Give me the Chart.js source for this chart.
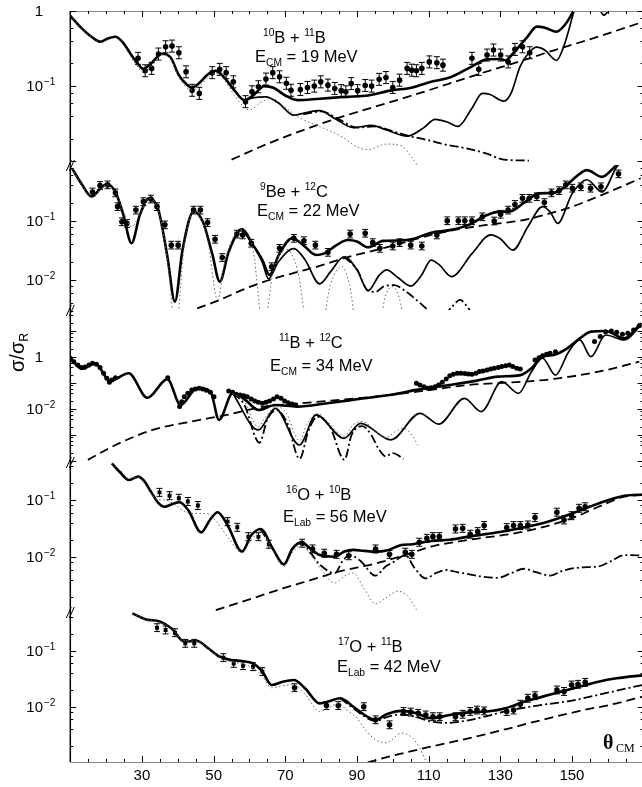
<!DOCTYPE html>
<html>
<head>
<meta charset="utf-8">
<script src="https://cdn.jsdelivr.net/npm/chart.js@4.4.1/dist/chart.umd.min.js"></script>
<style>
  html, body { margin: 0; padding: 0; background: #fff; overflow: hidden; }
  #wrap { width: 660px; height: 787px; }
</style>
</head>
<body>
<div id="wrap"><canvas id="c" width="660" height="787"></canvas></div>
<script>
// ---- data: [theta_cm (deg), sigma/sigma_R] ----
// panel 1: 10B + 11B, Ecm = 19 MeV
const p1Full = [[10,0.86],[13,0.6],[16,0.45],[18.5,0.39],[20.5,0.43],[22.6,0.455],[24.7,0.38],[26.8,0.27],[28.8,0.2],[30.4,0.17],[32.5,0.2],[35.6,0.27],[38,0.24],[40.3,0.14],[42.5,0.105],[43.9,0.096],[46,0.11],[48.5,0.145],[50.6,0.16],[53,0.13],[55.8,0.088],[58.6,0.065],[61,0.075],[64.1,0.1],[66.7,0.095],[70,0.075],[73.4,0.065],[79.6,0.068],[86.9,0.072],[93.1,0.075],[99.3,0.087],[105.5,0.096],[110.7,0.114],[115.9,0.13],[121.1,0.172],[126.3,0.227],[129.9,0.23],[131.5,0.22],[133.5,0.27],[137.5,0.45],[140.2,0.62],[142.5,0.6],[145.7,0.53],[148,0.65],[150.4,1.0],[152,1.5]];
const p1Second = [[50.6,0.16],[53,0.13],[55.8,0.088],[58.6,0.065],[61,0.07],[64.6,0.072],[68,0.06],[72.4,0.041],[75.5,0.044],[79.6,0.047],[83.8,0.037],[89,0.028],[94.1,0.03],[98.3,0.026],[104,0.0216],[108.7,0.028],[111.8,0.036],[115.4,0.033],[118.2,0.029],[122,0.05],[125,0.08],[127,0.078],[131,0.063],[133,0.08],[135.5,0.18],[138,0.28],[140.2,0.33],[142.5,0.3],[145.7,0.22],[148,0.37],[150.4,0.93],[152.5,2],[155,2.5],[157.8,1.05],[158.9,0.88],[160.3,1.05],[163,2.5]];
const p1Dash = [[55,0.0105],[65,0.017],[75,0.026],[85,0.038],[95,0.053],[105,0.074],[115,0.105],[125,0.15],[135,0.21],[145,0.3],[155,0.42],[170,0.72]];
const p1Dot = [[10,0.86],[13,0.6],[16,0.45],[18.5,0.38],[20.5,0.42],[22.6,0.44],[24.7,0.36],[26.8,0.25],[28.8,0.18],[30.4,0.15],[32.5,0.18],[35.6,0.26],[38,0.23],[40.3,0.13],[42.5,0.095],[44,0.088],[46,0.1],[48.5,0.13],[50.6,0.15],[53,0.12],[55.8,0.075],[58.6,0.052],[60,0.048],[63,0.06],[66.2,0.069],[70,0.052],[74.4,0.037],[79.6,0.029],[85.9,0.021],[90,0.0155],[93.1,0.0143],[98.3,0.0169],[102.4,0.016],[105.5,0.0109],[107.5,0.008]];
const p1DashDot = [[75,0.042],[80,0.046],[85,0.036],[90,0.028],[95,0.029],[100,0.025],[104,0.022],[110,0.019],[115,0.0165],[120,0.015],[126,0.0127],[131,0.0105],[138,0.0102]];
const p1Exp = [[28.9,0.234],[30.9,0.16],[32.7,0.172],[34.6,0.267],[36.6,0.334],[38.4,0.341],[40.3,0.278],[42.3,0.155],[44,0.088],[46,0.08],[49.6,0.151],[51.7,0.167],[53.5,0.151],[55.5,0.114],[58.9,0.062],[60.7,0.084],[62.5,0.098],[64.6,0.124],[66.5,0.151],[68.4,0.133],[70.3,0.109],[71.6,0.088],[74.2,0.09],[76.2,0.096],[78.1,0.1],[79.9,0.114],[81.9,0.103],[83.8,0.093],[85.6,0.087],[86.9,0.084],[88.4,0.108],[90.2,0.087],[92.3,0.102],[94.1,0.1],[96.2,0.123],[98.1,0.13],[100,0.096],[101.9,0.12],[104,0.172],[105.3,0.163],[106.6,0.16],[108.1,0.172],[110.2,0.21],[112.3,0.205],[114,0.19],[122.1,0.234],[124,0.167],[126.3,0.259],[128.1,0.302],[130.1,0.259],[132.2,0.21],[134.1,0.308],[136.2,0.334],[138.2,0.278]];

// panel 2: 9Be + 12C, Ecm = 22 MeV
const p2Full = [[10.5,0.78],[13.3,0.41],[15.9,0.26],[18.5,0.36],[20.1,0.42],[22.6,0.31],[24.7,0.135],[27.1,0.042],[29.4,0.126],[32,0.242],[34.6,0.153],[37.1,0.0248],[39.2,0.0043],[41.3,0.032],[44.4,0.144],[47,0.097],[49.6,0.028],[51.7,0.0094],[54.2,0.03],[57.9,0.073],[61,0.039],[63.6,0.0218],[65.6,0.0122],[68.2,0.0266],[71.9,0.051],[75,0.039],[78.6,0.0266],[80.7,0.028],[84.3,0.039],[87.4,0.0477],[90,0.045],[93.1,0.0358],[97.3,0.046],[102.4,0.047],[105.5,0.0495],[110.7,0.063],[115.9,0.07],[121.1,0.086],[126.3,0.126],[129.9,0.144],[132.5,0.144],[136.7,0.205],[140.8,0.294],[145,0.3],[148,0.38],[151.1,0.56],[154.2,0.73],[158.4,0.56],[161.5,0.78],[164,1.1]];
const p2Second = [[57.9,0.073],[61,0.039],[63.6,0.02],[65.3,0.0105],[68,0.02],[72.4,0.034],[75.5,0.022],[79.6,0.0086],[82.7,0.014],[86.4,0.0248],[90,0.015],[93.1,0.0066],[96.2,0.012],[98.3,0.0148],[101.4,0.011],[105,0.0079],[108,0.012],[110.7,0.0218],[113,0.018],[116.4,0.0114],[122.1,0.028],[127.3,0.058],[130,0.05],[133.5,0.032],[137.7,0.08],[141.8,0.175],[144,0.14],[146,0.091],[150.1,0.294],[154.2,0.5],[158.4,0.31],[162.5,0.83],[165,1.2]];
const p2Dash = [[45.4,0.0033],[51.7,0.0046],[58,0.0068],[65.1,0.0098],[72,0.013],[79.6,0.0173],[87,0.024],[95.2,0.032],[103,0.043],[110.7,0.058],[118,0.072],[126.3,0.086],[136.7,0.104],[143,0.13],[150.1,0.175],[159.4,0.294],[169.2,0.53]];
const p2Dot = [[10.5,0.78],[13.3,0.4],[15.9,0.25],[18.5,0.35],[20.1,0.41],[22.6,0.3],[24.7,0.15],[27.1,0.08],[29.4,0.13],[32,0.24],[34.6,0.15],[37.1,0.0218],[39.4,0.0015],[41.8,0.037],[44.4,0.144],[47,0.09],[48.5,0.042],[51.1,0.0046],[53.2,0.022],[57.9,0.073],[61,0.032],[63.9,0.0015],[66.7,0.0148],[70.3,0.033],[73.4,0.0148],[76.5,0.0015],[80.1,0.0015],[82.5,0.008],[85.8,0.0168],[88,0.008],[90,0.0015],[96.2,0.0015],[97.8,0.005],[99.8,0.0077],[101.8,0.005],[103.5,0.0015]];
const p2DashDot = [[86.4,0.0248],[90,0.015],[93.1,0.0066],[95.2,0.0063],[97.5,0.0078],[100.4,0.0082],[103.5,0.0065],[106.6,0.0046],[109.7,0.0031],[111,0.0025],[113,null],[114.5,0.0025],[116.5,0.0035],[118.8,0.0046],[120.8,0.0035],[122.5,0.0025]];
const p2Exp = [[16.2,0.31],[18.3,0.4],[20.4,0.41],[22.6,0.3],[23.2,0.175],[24.4,0.097],[25.8,0.091],[28.3,0.153],[30.4,0.213],[32.5,0.236],[34.2,0.175],[36.4,0.086],[38.2,0.039],[40.1,0.039],[44.4,0.153],[46.3,0.153],[48.3,0.094],[50.4,0.049],[52.4,0.024],[56.5,0.06],[58.1,0.058],[60.5,0.042],[66.2,0.0168],[68.4,0.0344],[72.4,0.0508],[75.2,0.0464],[78.4,0.039],[81.9,0.0294],[88.1,0.06],[92.3,0.062],[94.4,0.043],[96.4,0.0344],[100,0.0377],[101.9,0.043],[105,0.039],[108.1,0.0377],[112.3,0.058],[115.2,0.101],[118.3,0.101],[120.1,0.101],[122.1,0.101],[125,0.118],[128.3,0.1],[130.1,0.13],[132.2,0.153],[134.1,0.191],[136.2,0.242],[138.1,0.242],[140.2,0.258],[142.3,0.205],[144.3,0.3],[146.4,0.327],[148.3,0.41],[150.1,0.36],[152.5,0.38],[155.2,0.36],[158.1,0.38],[163,0.63]];

// panel 3: 11B + 12C, Ecm = 34 MeV
const p3Full = [[10,0.89],[13.3,0.35],[16.9,0.57],[21.1,0.12],[26.3,0.235],[31.5,0.027],[37.1,0.14],[40.8,0.0142],[45.4,0.063],[49.1,0.047],[51.5,0.0038],[55.3,0.04],[58.9,0.022],[62.5,0.0091],[67.2,0.0142],[73.4,0.0123],[81.7,0.0166],[90,0.0235],[100.4,0.0367],[106.6,0.054],[115.9,0.084],[123.2,0.12],[129.4,0.175],[135.6,0.2],[138.7,0.37],[141.8,1.03],[144.9,1.19],[148,1.86],[152.2,5.2],[155.3,9.4],[159.4,10],[164.6,5.2],[169.3,19.7]];
const p3Second = [[55.3,0.04],[62.5,0.00156],[67.2,0.0106],[73.9,0.00041],[78.6,0.0059],[86.4,0.00074],[91,0.0028],[99.5,0.00065],[107.6,0.0068],[112.8,0.0026],[120,0.0257],[124.7,0.0079],[130.4,0.112],[135.1,0.04],[138.7,0.27],[141.8,0.89],[145.4,0.2],[149.1,1.6],[152.2,4.5],[155.3,1.03],[159.4,7],[164.6,4.5],[169.3,17]];
const p3Dash = [[14.9,0.00011],[22.6,0.00041],[33,0.00156],[43.4,0.0032],[53.7,0.0059],[64.1,0.0123],[74.5,0.0165],[90,0.0257],[100.4,0.036],[110.7,0.054],[121.1,0.084],[136.6,0.112],[144.9,0.143],[157.4,0.27],[168.8,0.66]];
const p3Dot = [[55.3,0.04],[58.5,0.02],[62.5,0.002],[64,0.004],[67.5,0.012],[70,0.008],[74,0.0006],[76,0.0025],[79,0.0068],[82,0.003],[86.5,0.0009],[89,0.0025],[91.5,0.0033],[95,0.0015],[98,0.0008],[101,0.0014],[103,0.0018],[105.5,0.0009],[107,0.0004]];
const p3DashDot = [[55.3,0.04],[58.5,0.015],[62.8,0.0005],[65,0.004],[67.5,0.009],[70.5,0.003],[74,0.00012],[76.5,0.0015],[79,0.005],[82.5,0.002],[86.5,0.00011],[88.5,0.001],[91.5,0.0022],[94,0.001],[96,0.0003],[98,0.00015],[100,0.0002],[103,0.00012]];
const p3Exp = [[10,0.89],[11,0.66],[12.1,0.49],[13.1,0.39],[14.1,0.41],[15.2,0.49],[16.2,0.57],[17.3,0.52],[18.3,0.39],[19.3,0.235],[20.2,0.15],[20.9,0.107],[21.6,0.13],[22.6,0.16],[37.2,0.16],[40.5,0.0123],[41.1,0.019],[41.8,0.0296],[42.8,0.04],[43.9,0.054],[44.9,0.059],[46,0.062],[47,0.059],[48,0.052],[49.1,0.044],[50.1,0.0296],[54.2,0.049],[55.3,0.044],[56.3,0.0365],[57.4,0.0345],[58.4,0.0325],[59.4,0.0297],[60.5,0.024],[61.5,0.0204],[62.5,0.018],[63.6,0.0165],[64.6,0.018],[65.6,0.0204],[66.7,0.024],[67.7,0.0297],[68.8,0.0257],[69.8,0.0204],[70.8,0.0175],[71.9,0.0155],[72.9,0.0142],[106.6,0.097],[107.6,0.084],[108.7,0.072],[109.7,0.062],[110.7,0.066],[111.8,0.072],[112.8,0.084],[113.8,0.107],[114.9,0.142],[115.9,0.19],[116.9,0.215],[118,0.236],[119,0.236],[120.1,0.23],[121.1,0.222],[122.1,0.215],[123.2,0.236],[124.2,0.273],[125.2,0.29],[126.3,0.316],[127.3,0.345],[128.3,0.37],[129.4,0.39],[130.4,0.43],[131.5,0.46],[132.5,0.49],[133.5,0.43],[134.6,0.37],[135.6,0.345],[139.7,0.77],[140.8,0.94],[141.8,1.12],[142.9,1.27],[143.9,1.38],[145.4,1.6],[156.3,3.9],[157.9,6.1],[159.4,9.4],[161,10],[162.5,8.9],[164.1,7.4],[165.6,8.1],[167.2,10.9],[168.8,16]];

// panel 4: 16O + 10B, Elab = 56 MeV
const p4Full = [[21.6,0.44],[24,0.3],[26.3,0.224],[28.9,0.257],[30.5,0.22],[32.5,0.14],[34.5,0.09],[36.3,0.076],[38.5,0.085],[40.5,0.091],[43,0.065],[46.5,0.027],[49,0.045],[51.1,0.061],[54,0.035],[57.9,0.0124],[60.5,0.024],[63.1,0.031],[66.5,0.014],[69.6,0.0074],[72,0.014],[74.5,0.018],[77,0.014],[79.6,0.0108],[83.8,0.0101],[86.5,0.0125],[89,0.0133],[92,0.0128],[95.2,0.0124],[98.3,0.013],[102.4,0.0162],[105.5,0.0167],[110.7,0.019],[115.9,0.02],[121.1,0.0227],[131.5,0.0286],[141.8,0.039],[150.1,0.058],[157.4,0.087],[164.6,0.119],[170,0.125]];
const p4Dash = [[50.6,0.00117],[60,0.0018],[69.3,0.0028],[77,0.0039],[84.8,0.0055],[95.2,0.0077],[103.5,0.0108],[110.7,0.0152],[121.1,0.0199],[136.6,0.0278],[150.1,0.048],[157.4,0.076],[164.6,0.114],[170,0.122]];
const p4Dot = [[21.6,0.44],[24,0.33],[26.3,0.24],[28.9,0.25],[30.5,0.2],[32.5,0.13],[34.5,0.1],[36.3,0.1],[39,0.085],[42,0.062],[45,0.058],[48,0.058],[51,0.04],[54,0.022],[57.9,0.012],[60.5,0.02],[63.1,0.028],[66.5,0.013],[69.6,0.0068],[72,0.012],[74.5,0.016],[78,0.009],[80.5,0.0055],[83.8,0.0035],[86.5,0.0046],[89,0.0052],[92,0.0028],[95.2,0.0015],[98,0.0019],[101.4,0.0025],[104,0.0021],[106.6,0.0012],[108,0.0009]];
const p4DashDot = [[63.1,0.031],[66.5,0.014],[69.6,0.0074],[72,0.014],[74.5,0.018],[77,0.012],[79.5,0.0075],[83.8,0.0052],[86,0.0085],[88,0.0108],[91,0.0085],[95.2,0.0047],[98,0.0068],[100.4,0.0083],[103.5,0.0108],[106,0.0065],[109.2,0.0042],[112,0.0052],[114.9,0.0059],[118,0.0054],[121.1,0.005],[125,0.0045],[129.4,0.0043],[133,0.0052],[136.6,0.0062],[140,0.0054],[143.9,0.0047],[147,0.0056],[150.1,0.0063],[154,0.0066],[157.4,0.0068],[161,0.0085],[164.6,0.0108],[170,0.0106]];
const p4Exp = [[34.9,0.136],[37.7,0.119],[40.3,0.107],[42.8,0.094],[45.6,0.08],[53.9,0.0417],[56.6,0.0331],[59.7,0.0227],[62.5,0.0227],[65.4,0.0167],[74.7,0.0174],[77.6,0.0138],[80.9,0.0116],[84.3,0.0111],[87.7,0.0105],[95.2,0.0138],[99.1,0.0111],[103.5,0.0121],[105.3,0.0111],[107.4,0.0181],[109.5,0.0212],[111.2,0.0227],[113,0.0227],[117.5,0.031],[119.5,0.0318],[121.6,0.025],[123.7,0.0278],[125.5,0.0355],[131.8,0.0327],[133.7,0.0355],[135.6,0.0355],[137.7,0.0364],[139.7,0.049],[145.8,0.061],[147.8,0.0446],[149.9,0.053],[152,0.0714],[153.7,0.076]];

// panel 5: 17O + 11B, Elab = 42 MeV
const p5Full = [[27.3,0.47],[30.9,0.37],[35.1,0.334],[38.2,0.254],[41.8,0.147],[45.4,0.151],[48.5,0.112],[51.7,0.079],[54.8,0.069],[57.9,0.066],[61,0.06],[63.6,0.0428],[66.2,0.0247],[69.3,0.0283],[72.4,0.0303],[75.5,0.0216],[79.6,0.0116],[82.5,0.0128],[85.3,0.0143],[89,0.0101],[92.1,0.0072],[95.2,0.0059],[98.3,0.0074],[102.4,0.0085],[106.6,0.0077],[110.7,0.0063],[115.9,0.0072],[121.1,0.008],[126.3,0.0083],[131.5,0.0095],[136.6,0.0124],[141.8,0.0153],[147,0.0188],[152.2,0.0231],[157.4,0.0283],[162.5,0.0325],[170,0.037]];
const p5Dash = [[93,0.00102],[100,0.00135],[110.7,0.00196],[121.1,0.00275],[131.5,0.004],[141.8,0.0059],[152.2,0.0085],[162.5,0.0116],[170,0.0155]];
const p5Dot = [[27.3,0.47],[30.9,0.37],[35.1,0.32],[38.2,0.26],[41.8,0.15],[45.4,0.15],[48.5,0.11],[51.7,0.075],[54.8,0.065],[57.9,0.058],[61,0.05],[63.6,0.035],[66.2,0.022],[69.3,0.024],[72.4,0.025],[75.5,0.017],[79.6,0.0083],[82,0.0095],[84.8,0.0116],[87,0.009],[90,0.0063],[92.5,0.0038],[95.2,0.0026],[98.3,0.0023],[102.4,0.0034],[105.5,0.0028],[107.6,0.0018],[109.2,0.0011]];
const p5DashDot = [[85.3,0.0143],[89,0.0095],[92,0.0068],[95.2,0.0056],[98.3,0.0066],[102.4,0.0074],[106.6,0.0066],[110.7,0.0055],[115,0.0052],[120,0.0056],[126,0.0068],[132,0.0085],[140,0.0105],[150,0.013],[160,0.018],[170,0.025]];
const p5Exp = [[34.2,0.261],[36.6,0.237],[39.2,0.212],[42.1,0.137],[44.6,0.137],[52.7,0.076],[55.6,0.06],[58.2,0.0547],[61,0.0525],[63.6,0.0428],[72.6,0.0221],[81.5,0.0106],[84.8,0.0106],[91.9,0.0101],[95.2,0.0059],[99.1,0.0048],[103,0.0083],[105,0.0081],[107.1,0.0077],[109.2,0.0072],[111.2,0.0067],[113.1,0.0067],[117.5,0.0067],[119.5,0.0074],[121.6,0.0083],[123.5,0.0088],[125.5,0.0085],[131.8,0.0083],[133.7,0.0088],[135.6,0.0112],[137.7,0.0143],[139.7,0.0159],[145.8,0.0201],[147.8,0.0189],[149.9,0.0247],[151.7,0.0254],[153.7,0.0275]];

// error bar half-width in decades, per panel
const p1Err = 0.08, p2Err = 0.065, p4Err = 0.07, p5Err = 0.07;

// panel scales (top to bottom)
const panels = [
  { id: 'y1', min: 0.0089, max: 1, h: 154, labels: [1, 0.1] },
  { id: 'y2', min: 0.0031, max: 0.89, h: 145, labels: [0.1, 0.01] },
  { id: 'y3', min: 9.1e-5, max: 64, h: 152, labels: [1, 0.01] },
  { id: 'y4', min: 0.00108, max: 0.464, h: 150, labels: [0.1, 0.01] },
  { id: 'y5', min: 0.00104, max: 0.497, h: 150, labels: [0.1, 0.01] }
];

const notes = [
  { x: 263, y: 43, parts: [['10', 'sup'], ['B + ', ''], ['11', 'sup'], ['B', '']] },
  { x: 255, y: 62, parts: [['E', ''], ['CM', 'sub'], [' = 19 MeV', '']] },
  { x: 260, y: 197, parts: [['9', 'sup'], ['Be + ', ''], ['12', 'sup'], ['C', '']] },
  { x: 257, y: 216, parts: [['E', ''], ['CM', 'sub'], [' = 22 MeV', '']] },
  { x: 279, y: 348, parts: [['11', 'sup'], ['B + ', ''], ['12', 'sup'], ['C', '']] },
  { x: 270, y: 371, parts: [['E', ''], ['CM', 'sub'], [' = 34 MeV', '']] },
  { x: 286, y: 500, parts: [['16', 'sup'], ['O + ', ''], ['10', 'sup'], ['B', '']] },
  { x: 283, y: 522, parts: [['E', ''], ['Lab', 'sub'], [' = 56 MeV', '']] },
  { x: 338, y: 652, parts: [['17', 'sup'], ['O + ', ''], ['11', 'sup'], ['B', '']] },
  { x: 337, y: 672, parts: [['E', ''], ['Lab', 'sub'], [' = 42 MeV', '']] }
];

const FONT = "'Liberation Sans', Arial, sans-serif";
Chart.defaults.font.family = FONT;
Chart.defaults.color = '#000';

const FULL = { borderColor: '#000', borderWidth: 2.6 };
const SECOND = { borderColor: '#000', borderWidth: 1.7 };
const DASH = { borderColor: '#000', borderWidth: 1.8, borderDash: [9, 5] };
const DOT = { borderColor: '#666', borderWidth: 1, borderDash: [1.5, 2.5] };
const DASHDOT = { borderColor: '#000', borderWidth: 1.8, borderDash: [9, 3, 2, 3] };

function toXY(arr) {
  return arr.map(([x, y]) => ({ x, y }));
}

function curve(axis, arr, style) {
  return Object.assign({
    yAxisID: axis,
    data: toXY(arr),
    pointRadius: 0,
    fill: false,
    cubicInterpolationMode: 'monotone',
    spanGaps: false
  }, style);
}

function points(axis, arr, err, squaresBelow) {
  return {
    yAxisID: axis,
    data: toXY(arr),
    showLine: false,
    pointRadius: axis === 'y3' ? 2.5 : 2.8,
    pointBackgroundColor: '#000',
    pointBorderColor: '#000',
    pointBorderWidth: 0,
    pointStyle: (ctx) => (ctx.raw && ctx.raw.x < squaresBelow) ? 'rect' : 'circle',
    errDex: err
  };
}

const datasets = [
  curve('y1', p1Dot, DOT), curve('y1', p1DashDot, DASHDOT), curve('y1', p1Dash, DASH),
  curve('y1', p1Second, SECOND), curve('y1', p1Full, FULL),
  curve('y2', p2Dot, DOT), curve('y2', p2DashDot, DASHDOT), curve('y2', p2Dash, DASH),
  curve('y2', p2Second, SECOND), curve('y2', p2Full, FULL),
  curve('y3', p3Dot, DOT), curve('y3', p3DashDot, DASHDOT), curve('y3', p3Dash, DASH),
  curve('y3', p3Second, SECOND), curve('y3', p3Full, FULL),
  curve('y4', p4Dot, DOT), curve('y4', p4DashDot, DASHDOT), curve('y4', p4Dash, DASH),
  curve('y4', p4Full, FULL),
  curve('y5', p5Dot, DOT), curve('y5', p5DashDot, DASHDOT), curve('y5', p5Dash, DASH),
  curve('y5', p5Full, FULL),
  points('y1', p1Exp, p1Err, 0),
  points('y2', p2Exp, p2Err, 0),
  points('y3', p3Exp, 0, 0),
  points('y4', p4Exp, p4Err, 66),
  points('y5', p5Exp, p5Err, 66)
];

function line(ctx, x1, y1, x2, y2) {
  ctx.beginPath();
  ctx.moveTo(x1, y1);
  ctx.lineTo(x2, y2);
  ctx.stroke();
}

// text with superscripts / subscripts
function rich(ctx, x, y, parts, size) {
  let cx = x;
  parts.forEach(([txt, mode]) => {
    let s = size, dy = 0;
    if (mode === 'sup') { s = size * 0.62; dy = -size * 0.42; }
    if (mode === 'sub') { s = size * 0.62; dy = size * 0.22; }
    ctx.font = s + 'px ' + FONT;
    ctx.fillText(txt, cx, y + dy);
    cx += ctx.measureText(txt).width;
  });
}

// clip each dataset to its own panel and draw error bars
const panelClip = {
  id: 'panelClip',
  beforeDatasetDraw(chart, args) {
    const ds = chart.data.datasets[args.index];
    const s = chart.scales[ds.yAxisID];
    const a = chart.chartArea;
    const ctx = chart.ctx;
    ctx.save();
    ctx.beginPath();
    ctx.rect(a.left, s.top, a.right - a.left, s.bottom - s.top);
    ctx.clip();
  },
  afterDatasetDraw(chart, args) {
    const ds = chart.data.datasets[args.index];
    const ctx = chart.ctx;
    if (ds.errDex) {
      const s = chart.scales[ds.yAxisID];
      const xs = chart.scales.x;
      const f = Math.pow(10, ds.errDex);
      ctx.strokeStyle = '#000';
      ctx.lineWidth = 1;
      ds.data.forEach(p => {
        const px = xs.getPixelForValue(p.x);
        const yt = s.getPixelForValue(p.y * f);
        const yb = s.getPixelForValue(p.y / f);
        line(ctx, px, yt, px, yb);
        line(ctx, px - 3, yt, px + 3, yt);
        line(ctx, px - 3, yb, px + 3, yb);
      });
    }
    ctx.restore();
  }
};

// frame, ticks, break marks and text
const frame = {
  id: 'frame',
  afterDraw(chart) {
    const ctx = chart.ctx;
    const a = chart.chartArea;
    const xs = chart.scales.x;
    ctx.save();
    ctx.lineWidth = 1;
    ctx.strokeStyle = '#888';
    line(ctx, a.left, a.top + 0.5, a.right, a.top + 0.5);
    line(ctx, a.left, a.bottom + 0.5, a.right, a.bottom + 0.5);
    ctx.strokeStyle = '#000';
    ctx.lineWidth = 1.5;
    line(ctx, a.left, a.top, a.left, a.bottom);
    line(ctx, a.right, a.top, a.right, a.bottom);
    ctx.lineWidth = 1;
    for (let v = 10; v <= 170; v += 5) {
      const px = Math.round(xs.getPixelForValue(v)) + 0.5;
      const len = (v - 10) % 20 === 0 ? 6 : 3;
      line(ctx, px, a.bottom, px, a.bottom - len);
      line(ctx, px, a.top, px, a.top + len);
    }
    ctx.fillStyle = '#000';
    panels.forEach((p, i) => {
      const s = chart.scales[p.id];
      for (let e = -5; e <= 2; e++) {
        [1, 2, 4, 6, 8].forEach(m => {
          const v = m * Math.pow(10, e);
          if (v < s.min || v > s.max) return;
          const py = Math.round(s.getPixelForValue(v)) + 0.5;
          const len = m === 1 ? 6 : 3;
          line(ctx, a.left, py, a.left + len, py);
          line(ctx, a.right, py, a.right - len, py);
        });
      }
      ctx.textBaseline = 'alphabetic';
      p.labels.forEach(v => {
        const py = s.getPixelForValue(v) + 5;
        const ex = Math.round(Math.log10(v));
        ctx.textAlign = 'right';
        ctx.font = '15px ' + FONT;
        if (ex === 0) {
          ctx.fillText('1', 43, py);
        } else {
          ctx.fillText('10', 43, py);
          ctx.textAlign = 'left';
          ctx.font = '10px ' + FONT;
          ctx.fillText('\u2212' + (-ex), 44, py - 6);
        }
      });
      if (i > 0) {
        const y = s.top;
        ctx.lineWidth = 1;
        line(ctx, a.left - 4, y + 6, a.left + 1, y - 5);
        line(ctx, a.left - 1, y + 6, a.left + 4, y - 5);
      }
    });
    ctx.textAlign = 'left';
    notes.forEach(n => rich(ctx, n.x, n.y, n.parts, 16.5));

    // y title
    ctx.save();
    ctx.translate(24, 372);
    ctx.rotate(-Math.PI / 2);
    rich(ctx, 0, 0, [['\u03c3/\u03c3', ''], ['R', 'sub']], 20);
    ctx.restore();

    // x title
    ctx.font = 'bold 20px "Liberation Serif", serif';
    ctx.fillText('\u03b8', 603, 749);
    ctx.font = '12px "Liberation Serif", serif';
    ctx.fillText('CM', 616, 752);
    ctx.restore();
  }
};

const scales = {
  x: {
    type: 'linear',
    min: 10,
    max: 170,
    grid: { display: false, drawTicks: false },
    border: { display: false },
    ticks: {
      stepSize: 20,
      autoSkip: false,
      maxRotation: 0,
      padding: 5,
      font: { size: 15 },
      callback: (v) => (v >= 30 && v <= 150) ? String(v) : ''
    },
    afterFit: (s) => { s.height = 25; }
  }
};
// later-defined left scales are stacked on top, so add them bottom-up
panels.slice().reverse().forEach(p => {
  scales[p.id] = {
    type: 'logarithmic',
    position: 'left',
    stack: 'panels',
    stackWeight: p.h,
    min: p.min,
    max: p.max,
    grid: { display: false, drawTicks: false },
    border: { display: false },
    ticks: { display: false },
    afterFit: (s) => { s.width = 0; }
  };
});

new Chart(document.getElementById('c'), {
  type: 'line',
  data: { datasets },
  options: {
    responsive: false,
    animation: false,
    layout: { padding: { left: 70.3, right: 16.4, top: 11, bottom: 0 } },
    plugins: { legend: { display: false }, tooltip: { enabled: false } },
    scales
  },
  plugins: [panelClip, frame]
});
</script>
</body>
</html>
